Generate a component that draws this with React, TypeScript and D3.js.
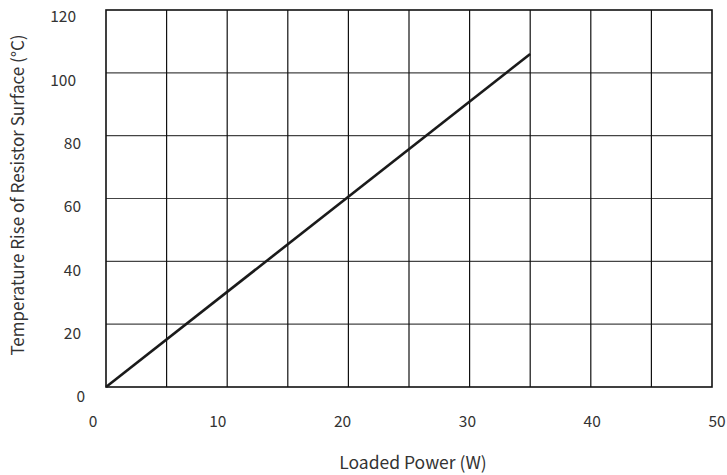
import React, { useEffect, useRef } from 'react';
import * as d3 from 'd3';

// Data
const power = [0, 35];
const tempRise = [0, 106];
const xTicks = [0, 10, 20, 30, 40, 50];
const yTicks = [0, 20, 40, 60, 80, 100, 120];
const xGrid = [5, 10, 15, 20, 25, 30, 35, 40, 45];
const yGrid = [20, 40, 60, 80, 100];

const W = 727;
const H = 475;
const font = '"Noto Sans CJK SC", "Noto Sans", sans-serif';

const App = () => {
    const svgRef = useRef<SVGSVGElement>(null);

    useEffect(() => {
        const svg = d3.select(svgRef.current);
        svg.selectAll('*').remove();

        const x = d3.scaleLinear().domain([0, 50]).range([106, 712]);
        const y = d3.scaleLinear().domain([0, 120]).range([387, 10]);
        // tick labels in the original sit slightly off the grid
        const xl = d3.scaleLinear().domain([0, 50]).range([93, 717]);
        const yl = d3.scaleLinear().domain([0, 120]).range([397, 17]);

        svg.append('rect').attr('width', W).attr('height', H).attr('fill', '#fff');

        // grid
        svg.append('g')
            .selectAll('line')
            .data(yGrid)
            .join('line')
            .attr('x1', x(0)).attr('x2', x(50))
            .attr('y1', d => y(d)).attr('y2', d => y(d))
            .attr('stroke', '#444').attr('stroke-width', 1.2);

        svg.append('g')
            .selectAll('line')
            .data(xGrid)
            .join('line')
            .attr('x1', d => x(d)).attr('x2', d => x(d))
            .attr('y1', y(0)).attr('y2', y(120))
            .attr('stroke', '#111').attr('stroke-width', 1.2);

        svg.append('rect')
            .attr('x', x(0)).attr('y', y(120))
            .attr('width', x(50) - x(0)).attr('height', y(0) - y(120))
            .attr('fill', 'none').attr('stroke', '#111').attr('stroke-width', 1.6);

        // data line
        const line = d3.line<number>()
            .x(d => x(d))
            .y((d, i) => y(tempRise[i]));
        svg.append('path')
            .datum(power)
            .attr('d', line)
            .attr('fill', 'none')
            .attr('stroke', '#1a1a1a')
            .attr('stroke-width', 2.6);

        // tick labels
        svg.append('g')
            .selectAll('text')
            .data(xTicks)
            .join('text')
            .attr('x', d => xl(d)).attr('y', 422)
            .attr('dy', '0.35em')
            .attr('text-anchor', 'middle')
            .attr('font-family', font).attr('font-size', 15.5).attr('fill', '#333')
            .text(d => d);

        svg.append('g')
            .selectAll('text')
            .data(yTicks)
            .join('text')
            .attr('x', d => (d >= 100 ? 76 : d === 0 ? 85 : 81)).attr('y', d => yl(d))
            .attr('dy', '0.35em')
            .attr('text-anchor', 'end')
            .attr('font-family', font).attr('font-size', 15.5).attr('fill', '#333')
            .text(d => d);

        // axis titles
        svg.append('text')
            .attr('x', 413).attr('y', 463)
            .attr('dy', '0.35em')
            .attr('text-anchor', 'middle')
            .attr('font-family', font).attr('font-size', 17.5).attr('fill', '#333')
            .text('Loaded Power (W)');

        svg.append('text')
            .attr('transform', 'translate(18,195) rotate(-90)')
            .attr('dy', '0.35em')
            .attr('text-anchor', 'middle')
            .attr('font-family', font).attr('font-size', 17).attr('fill', '#333')
            .text('Temperature Rise of Resistor Surface (°C)');
    }, []);

    return (
        <svg ref={svgRef} width={W} height={H}
            style={{ position: 'fixed', left: 0, top: 0, display: 'block' }}></svg>
    );
};

export default App;
